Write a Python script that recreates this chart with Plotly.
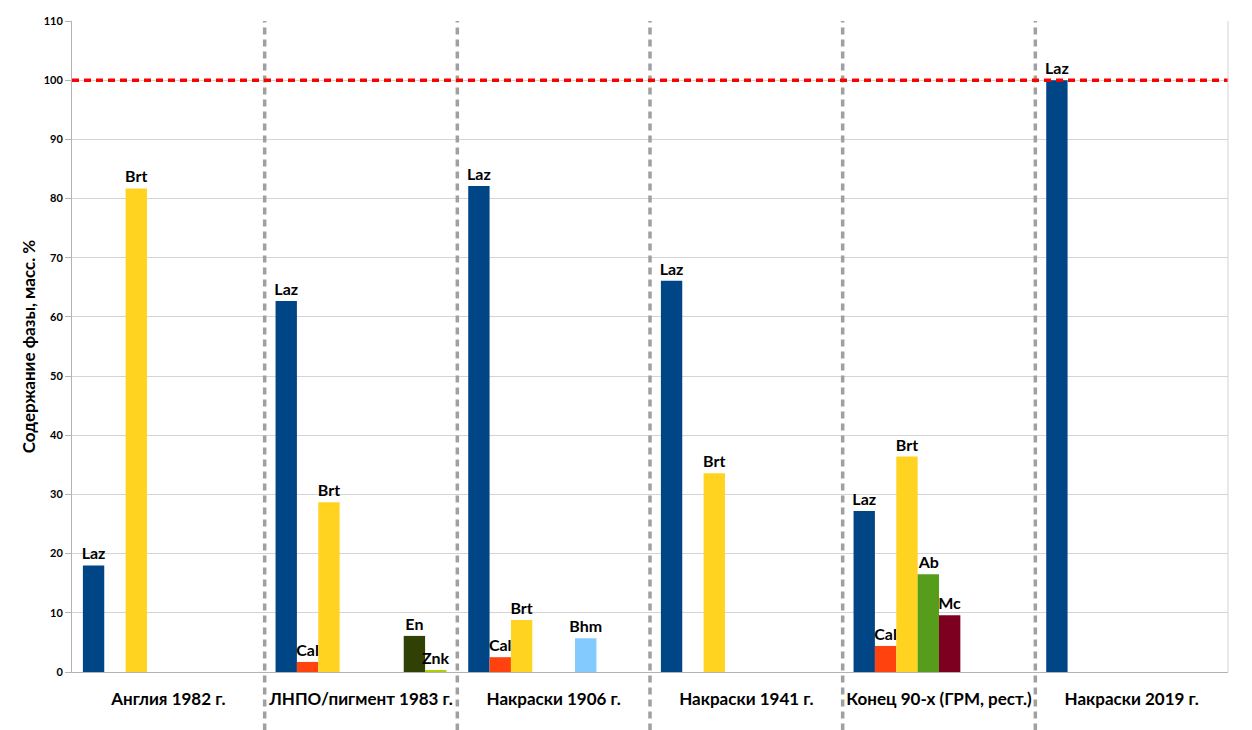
import plotly.graph_objects as go

categories = ["Англия 1982 г.", "ЛНПО/пигмент 1983 г.", "Накраски 1906 г.",
              "Накраски 1941 г.", "Конец 90-х (ГРМ, рест.)", "Накраски 2019 г."]

# phase content, mass %, None = phase not present
laz = [18.0, 62.7, 82.1, 66.1, 27.2, 100.0]
cal = [None, 1.7, 2.5, None, 4.4, None]
brt = [81.7, 28.7, 8.8, 33.6, 36.4, None]
ab = [None, None, None, None, 16.5, None]
mc = [None, None, None, None, 9.6, None]
bhm = [None, None, 5.7, None, None, None]
en = [None, 6.1, None, None, None, None]
znk = [None, 0.3, None, None, None, None]

series = [
    ("Laz", laz, "#004586"),
    ("Cal", cal, "#ff420e"),
    ("Brt", brt, "#ffd320"),
    ("Ab", ab, "#579d1c"),
    ("Mc", mc, "#7e0021"),
    ("Bhm", bhm, "#83caff"),
    ("En", en, "#314004"),
    ("Znk", znk, "#aecf00"),
]

font_family = "Lato, 'Noto Sans', sans-serif"

fig = go.Figure()
for name, vals, color in series:
    fig.add_trace(go.Bar(
        x=categories,
        y=vals,
        name=name,
        marker=dict(color=color, line=dict(width=0)),
        text=[name if v is not None else "" for v in vals],
        textposition="outside",
        constraintext="none",
        textfont=dict(family=font_family, size=16, color="black", weight="bold"),
        cliponaxis=False,
    ))

# separators between groups
for i in range(len(categories) - 1):
    fig.add_shape(type="line", xref="x", yref="paper",
                  x0=i + 0.5, x1=i + 0.5, y0=-0.09, y1=1,
                  line=dict(color="#a0a0a0", width=3.5, dash="7px,5px"))

# 100 % reference line
fig.add_shape(type="line", xref="paper", yref="y",
              x0=0, x1=1, y0=100, y1=100,
              line=dict(color="#ff0000", width=3.5, dash="7px,5px"))

# the page body adds 8px around the figure, so size it a bit smaller
fig.update_layout(
    width=1244, height=722,
    barmode="group",
    bargap=0.113,
    bargroupgap=0,
    showlegend=False,
    plot_bgcolor="white",
    paper_bgcolor="white",
    margin=dict(l=64, r=24, t=13, b=58),
    font=dict(family=font_family, color="black"),
)
fig.update_xaxes(
    automargin=False,
    showline=True, linecolor="#b3b3b3", linewidth=1,
    ticks="", ticklabelstandoff=12,
    tickfont=dict(size=17, weight="bold"),
)
fig.update_yaxes(
    automargin=False,
    range=[0, 110], dtick=10,
    showgrid=True, gridcolor="#d4d4d4", gridwidth=1,
    showline=True, linecolor="#b3b3b3", linewidth=1,
    ticks="outside", ticklen=6, tickcolor="#b3b3b3",
    tickfont=dict(size=11, weight="bold"),
    title=dict(text="Содержание фазы, масс. %", font=dict(size=17, weight="bold"), standoff=3),
    zeroline=False,
)
# right border of the plot area
fig.add_shape(type="line", xref="paper", yref="paper", x0=1, x1=1, y0=0, y1=1,
              line=dict(color="#d4d4d4", width=1))

fig.write_html("out.html")
